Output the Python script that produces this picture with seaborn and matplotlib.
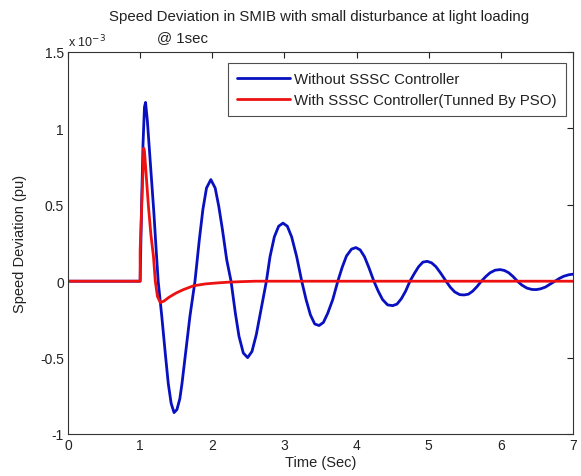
import matplotlib
matplotlib.use("Agg")
import matplotlib.pyplot as plt
import seaborn as sns
import pandas as pd

# Values in units of 1e-3 pu
blue_t = [0.0, 1.0, 1.02, 1.04, 1.06, 1.075, 1.10, 1.13, 1.16, 1.19, 1.22, 1.25,
          1.30, 1.35, 1.39, 1.43, 1.47, 1.51, 1.55, 1.58, 1.63, 1.69, 1.76,
          1.82, 1.87, 1.92, 1.98, 2.04, 2.09, 2.14, 2.20, 2.26,
          2.32, 2.37, 2.43, 2.49, 2.55, 2.61, 2.67, 2.75,
          2.80, 2.86, 2.92, 2.98, 3.04, 3.10, 3.17, 3.24,
          3.30, 3.36, 3.42, 3.48, 3.54, 3.60, 3.67, 3.74,
          3.80, 3.86, 3.93, 3.99, 4.05, 4.11, 4.17, 4.24,
          4.30, 4.36, 4.43, 4.50, 4.56, 4.62, 4.68, 4.74,
          4.80, 4.86, 4.92, 4.98, 5.04, 5.10, 5.17, 5.24,
          5.30, 5.36, 5.43, 5.49, 5.55, 5.61, 5.67, 5.73,
          5.79, 5.85, 5.92, 5.99, 6.05, 6.11, 6.17, 6.23,
          6.29, 6.36, 6.43, 6.49, 6.55, 6.62, 6.68, 6.75,
          6.81, 6.87, 6.94, 7.0]
blue_y = [0.0, 0.0, 0.50, 0.90, 1.14, 1.17, 1.05, 0.85, 0.65, 0.45, 0.22, 0.0,
          -0.23, -0.48, -0.67, -0.80, -0.86, -0.84, -0.77, -0.67, -0.47, -0.23, 0.0,
          0.27, 0.47, 0.61, 0.665, 0.61, 0.49, 0.34, 0.14, 0.0,
          -0.21, -0.36, -0.47, -0.50, -0.46, -0.35, -0.20, 0.0,
          0.16, 0.29, 0.36, 0.38, 0.36, 0.29, 0.16, 0.0,
          -0.12, -0.22, -0.28, -0.29, -0.27, -0.21, -0.12, 0.0,
          0.09, 0.165, 0.21, 0.22, 0.205, 0.16, 0.09, 0.0,
          -0.065, -0.12, -0.155, -0.16, -0.15, -0.115, -0.065, 0.0,
          0.05, 0.095, 0.125, 0.13, 0.12, 0.095, 0.05, 0.0,
          -0.04, -0.07, -0.088, -0.09, -0.085, -0.065, -0.035, 0.0,
          0.03, 0.055, 0.072, 0.076, 0.07, 0.055, 0.03, 0.0,
          -0.025, -0.045, -0.054, -0.055, -0.05, -0.038, -0.02, 0.0,
          0.018, 0.032, 0.042, 0.046]

red_t = [0.0, 1.0, 1.0, 1.03, 1.05, 1.06, 1.08, 1.115, 1.15, 1.185, 1.21, 1.24,
         1.28, 1.33, 1.40, 1.50, 1.60, 1.74, 1.90, 2.05, 2.20, 2.40, 2.60, 7.0]
red_y = [0.0, 0.0, 0.20, 0.60, 0.87, 0.85, 0.72, 0.49, 0.30, 0.16, 0.0, -0.10,
         -0.14, -0.13, -0.105, -0.077, -0.055, -0.03, -0.018, -0.012, -0.007, -0.003, 0.0, 0.0]

label_blue = "Without SSSC Controller"
label_red = "With SSSC Controller(Tunned By PSO)"

df = pd.concat([
    pd.DataFrame({"t": blue_t, "y": blue_y, "series": label_blue}),
    pd.DataFrame({"t": red_t, "y": red_y, "series": label_red}),
], ignore_index=True)

sns.set_style("white")
plt.rcParams["font.family"] = ["Liberation Sans", "DejaVu Sans"]
TXT = "#222222"

fig = plt.figure(figsize=(5.81, 4.77), dpi=100)
ax = fig.add_axes([68 / 581, 1 - 435 / 477, (573 - 68) / 581, (435 - 53) / 477])

sns.lineplot(data=df, x="t", y="y", hue="series",
             estimator=None, sort=False,
             palette={label_blue: "#0810c0", label_red: "#ee1111"},
             linewidth=2.0, ax=ax)

ax.set_xlim(0, 7)
ax.set_ylim(-1, 1.5)
ax.set_xticks(range(0, 8))
ax.set_yticks([-1, -0.5, 0, 0.5, 1, 1.5])
ax.set_yticklabels(["-1", "-0.5", "0", "0.5", "1", "1.5"])
ax.tick_params(direction="in", top=True, right=True, length=4, width=0.8,
               labelsize=10, colors=TXT, pad=3)
for s in ax.spines.values():
    s.set_color("#333333")
    s.set_linewidth(0.8)

ax.set_xlabel("Time (Sec)", fontsize=10.5, labelpad=2, color=TXT)
ax.set_ylabel("Speed Deviation (pu)", fontsize=10.5, labelpad=9, color=TXT)

fig.text(319 / 581, 1 - 17 / 477, "Speed Deviation in SMIB with small disturbance at light loading",
         ha="center", va="center", fontsize=10.8, color=TXT)
fig.text(157 / 581, 1 - 38 / 477, "@ 1sec", ha="left", va="center", fontsize=10.8, color=TXT)
fig.text(68 / 581, 1 - 42 / 477, r"x 10$^{-3}$", ha="left", va="center", fontsize=9, color=TXT)

leg = ax.legend(loc="upper right", bbox_to_anchor=(566 / 581, 1 - 64 / 477),
                bbox_transform=fig.transFigure, fontsize=10.8, frameon=True,
                fancybox=False, borderpad=0.6, handlelength=3.5, handletextpad=0.3,
                labelspacing=0.45, borderaxespad=0)
leg.get_frame().set_edgecolor("#222222")
leg.get_frame().set_linewidth(0.8)
for t in leg.get_texts():
    t.set_color(TXT)

fig.savefig("out.png", dpi=100, facecolor="white")
